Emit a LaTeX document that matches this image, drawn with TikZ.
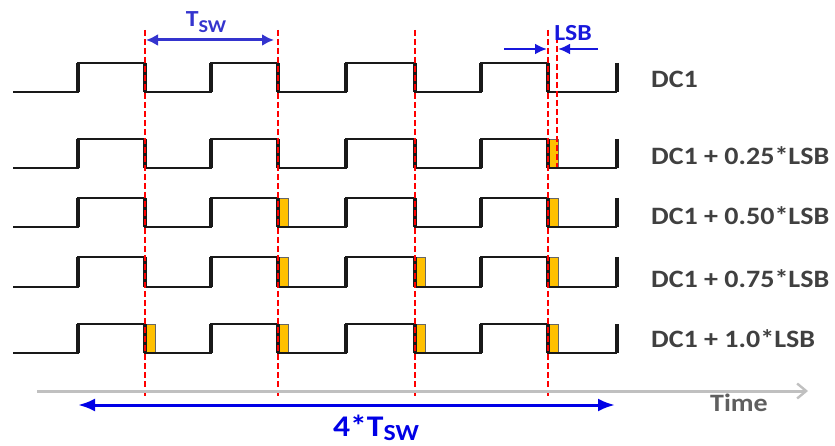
\documentclass[tikz,border=0pt]{standalone}
\usepackage{fontspec}
\setmainfont{Carlito}
\usetikzlibrary{positioning, arrows.meta}

\definecolor{txtgray}{HTML}{404040}
\definecolor{timegray}{HTML}{5F5F5F}
\definecolor{axisgray}{HTML}{C0C0C0}
\definecolor{tswblue}{HTML}{3434CE}
\definecolor{lsbblue}{HTML}{1818DC}
\definecolor{spanblue}{HTML}{0000E6}
\definecolor{lsbfill}{HTML}{FFC000}

% text is a little wider than Carlito
\newcommand{\wide}[1]{\scalebox{1.12}[1]{#1}}

% one PWM trace: #1 = high level, #2 = low level
\newcommand{\pwmrow}[2]{%
  \draw[wave] (13,#2) -- (78,#2) -- (78,#1) -- (145,#1) -- (145,#2) -- (211,#2) -- (211,#1) -- (278,#1)
    -- (278,#2) -- (346,#2) -- (346,#1) -- (415,#1) -- (415,#2) -- (481,#2) -- (481,#1) -- (548,#1)
    -- (548,#2) -- (617,#2);
  \foreach \e in {78,145,211,278,346,415,481,548,617}
    \draw[edge] (\e,#1) -- (\e,#2);
}

% extra LSB slice after a falling edge
\newcommand{\lsbbox}[3]{\draw[lsbbar] (#1,#2) rectangle (#1+10,#3);}

\begin{document}
\begin{tikzpicture}[
    x=1pt, y=-1pt,
    wave/.style={line width=1.8pt, black!90},
    edge/.style={line width=3.6pt, black!90},
    lsbbar/.style={fill=lsbfill, draw=black!60, line width=0.8pt},
    cut/.style={red, line width=2.3pt, dash pattern=on 6pt off 3pt},
    lbl/.style={font=\fontsize{25}{30}\selectfont\bfseries, text=txtgray, anchor=west, inner sep=0pt},
    timeax/.style={axisgray, line width=3pt, -{Straight Barb[length=9pt, width=15pt, line width=2.4pt]}},
    tswarr/.style={tswblue, line width=3pt, {Latex[length=12pt, width=12pt]}-{Latex[length=12pt, width=12pt]}},
    lsbarr/.style={lsbblue, line width=2.6pt, -{Latex[length=12pt, width=11pt]}},
    spanarr/.style={spanblue, line width=3pt, {Latex[length=17pt, width=13pt]}-{Latex[length=17pt, width=13pt]}}
]
    \useasboundingbox (0,0) rectangle (835,446);

    % LSB slices
    \lsbbox{548}{139}{168}
    \lsbbox{278}{198}{227} \lsbbox{548}{198}{227}
    \lsbbox{278}{257}{287} \lsbbox{415}{257}{287} \lsbbox{548}{257}{287}
    \lsbbox{145}{324}{353} \lsbbox{278}{324}{353} \lsbbox{415}{324}{353} \lsbbox{548}{324}{353}

    % traces
    \pwmrow{63}{92}
    \pwmrow{139}{168}
    \pwmrow{198}{227}
    \pwmrow{257}{287}
    \pwmrow{324}{353}

    % period marks
    \foreach \x [count=\i] in {145,278,415,548} {
        \coordinate (cut\i-t) at (\x,30);
        \coordinate (cut\i-b) at (\x,397);
        \draw[cut] (cut\i-t) -- (cut\i-b);
    }
    \coordinate (lsbcut-t) at (557,28);
    \coordinate (lsbcut-b) at (557,167);
    \draw[cut] (lsbcut-t) -- (lsbcut-b);

    % time axis
    \coordinate (t0) at (37,391);
    \coordinate (t1) at (808,391);
    \draw[timeax] (t0) -- (t1);
    \node[lbl, text=timegray] (timelbl) at (710,403) {\wide{Time}};

    % T_sw
    \coordinate (tsw-l) at (146,40);
    \coordinate (tsw-r) at (274,40);
    \draw[tswarr] (tsw-l) -- (tsw-r);
    \node[font=\fontsize{23}{28}\selectfont\bfseries, text=tswblue, anchor=base, inner sep=0pt] (tsw) at (206,26.5)
        {\wide{T\raisebox{-6.5pt}{\fontsize{18}{18}\selectfont SW}}};

    % LSB
    \coordinate (lsb-a) at (504,49);
    \coordinate (lsb-b) at (547,49);
    \coordinate (lsb-c) at (598,49);
    \coordinate (lsb-d) at (558,49);
    \draw[lsbarr] (lsb-a) -- (lsb-b);
    \draw[lsbarr] (lsb-c) -- (lsb-d);
    \node[font=\fontsize{23}{28}\selectfont\bfseries, text=lsbblue, anchor=base, inner sep=0pt] (lsb) at (573,41) {\wide{LSB}};

    % 4 periods
    \coordinate (span-l) at (78,405);
    \coordinate (span-r) at (615,405);
    \draw[spanarr] (span-l) -- (span-r);
    \node[font=\fontsize{30}{36}\selectfont\bfseries, text=spanblue, anchor=base, inner sep=0pt] (span) at (376,436)
        {\wide{4*T\raisebox{-4.5pt}{\fontsize{23}{23}\selectfont SW}}};

    % row labels
    \node[lbl] (dc1)   at (651,79.5) {\wide{DC1}};
    \node[lbl] (dc1q)  at (651,156)  {\wide{DC1 + 0.25*LSB}};
    \node[lbl] (dc1h)  at (651,216)  {\wide{DC1 + 0.50*LSB}};
    \node[lbl] (dc1tq) at (651,279)  {\wide{DC1 + 0.75*LSB}};
    \node[lbl] (dc1f)  at (651,339)  {\wide{DC1 + 1.0*LSB}};
\end{tikzpicture}
\end{document}
